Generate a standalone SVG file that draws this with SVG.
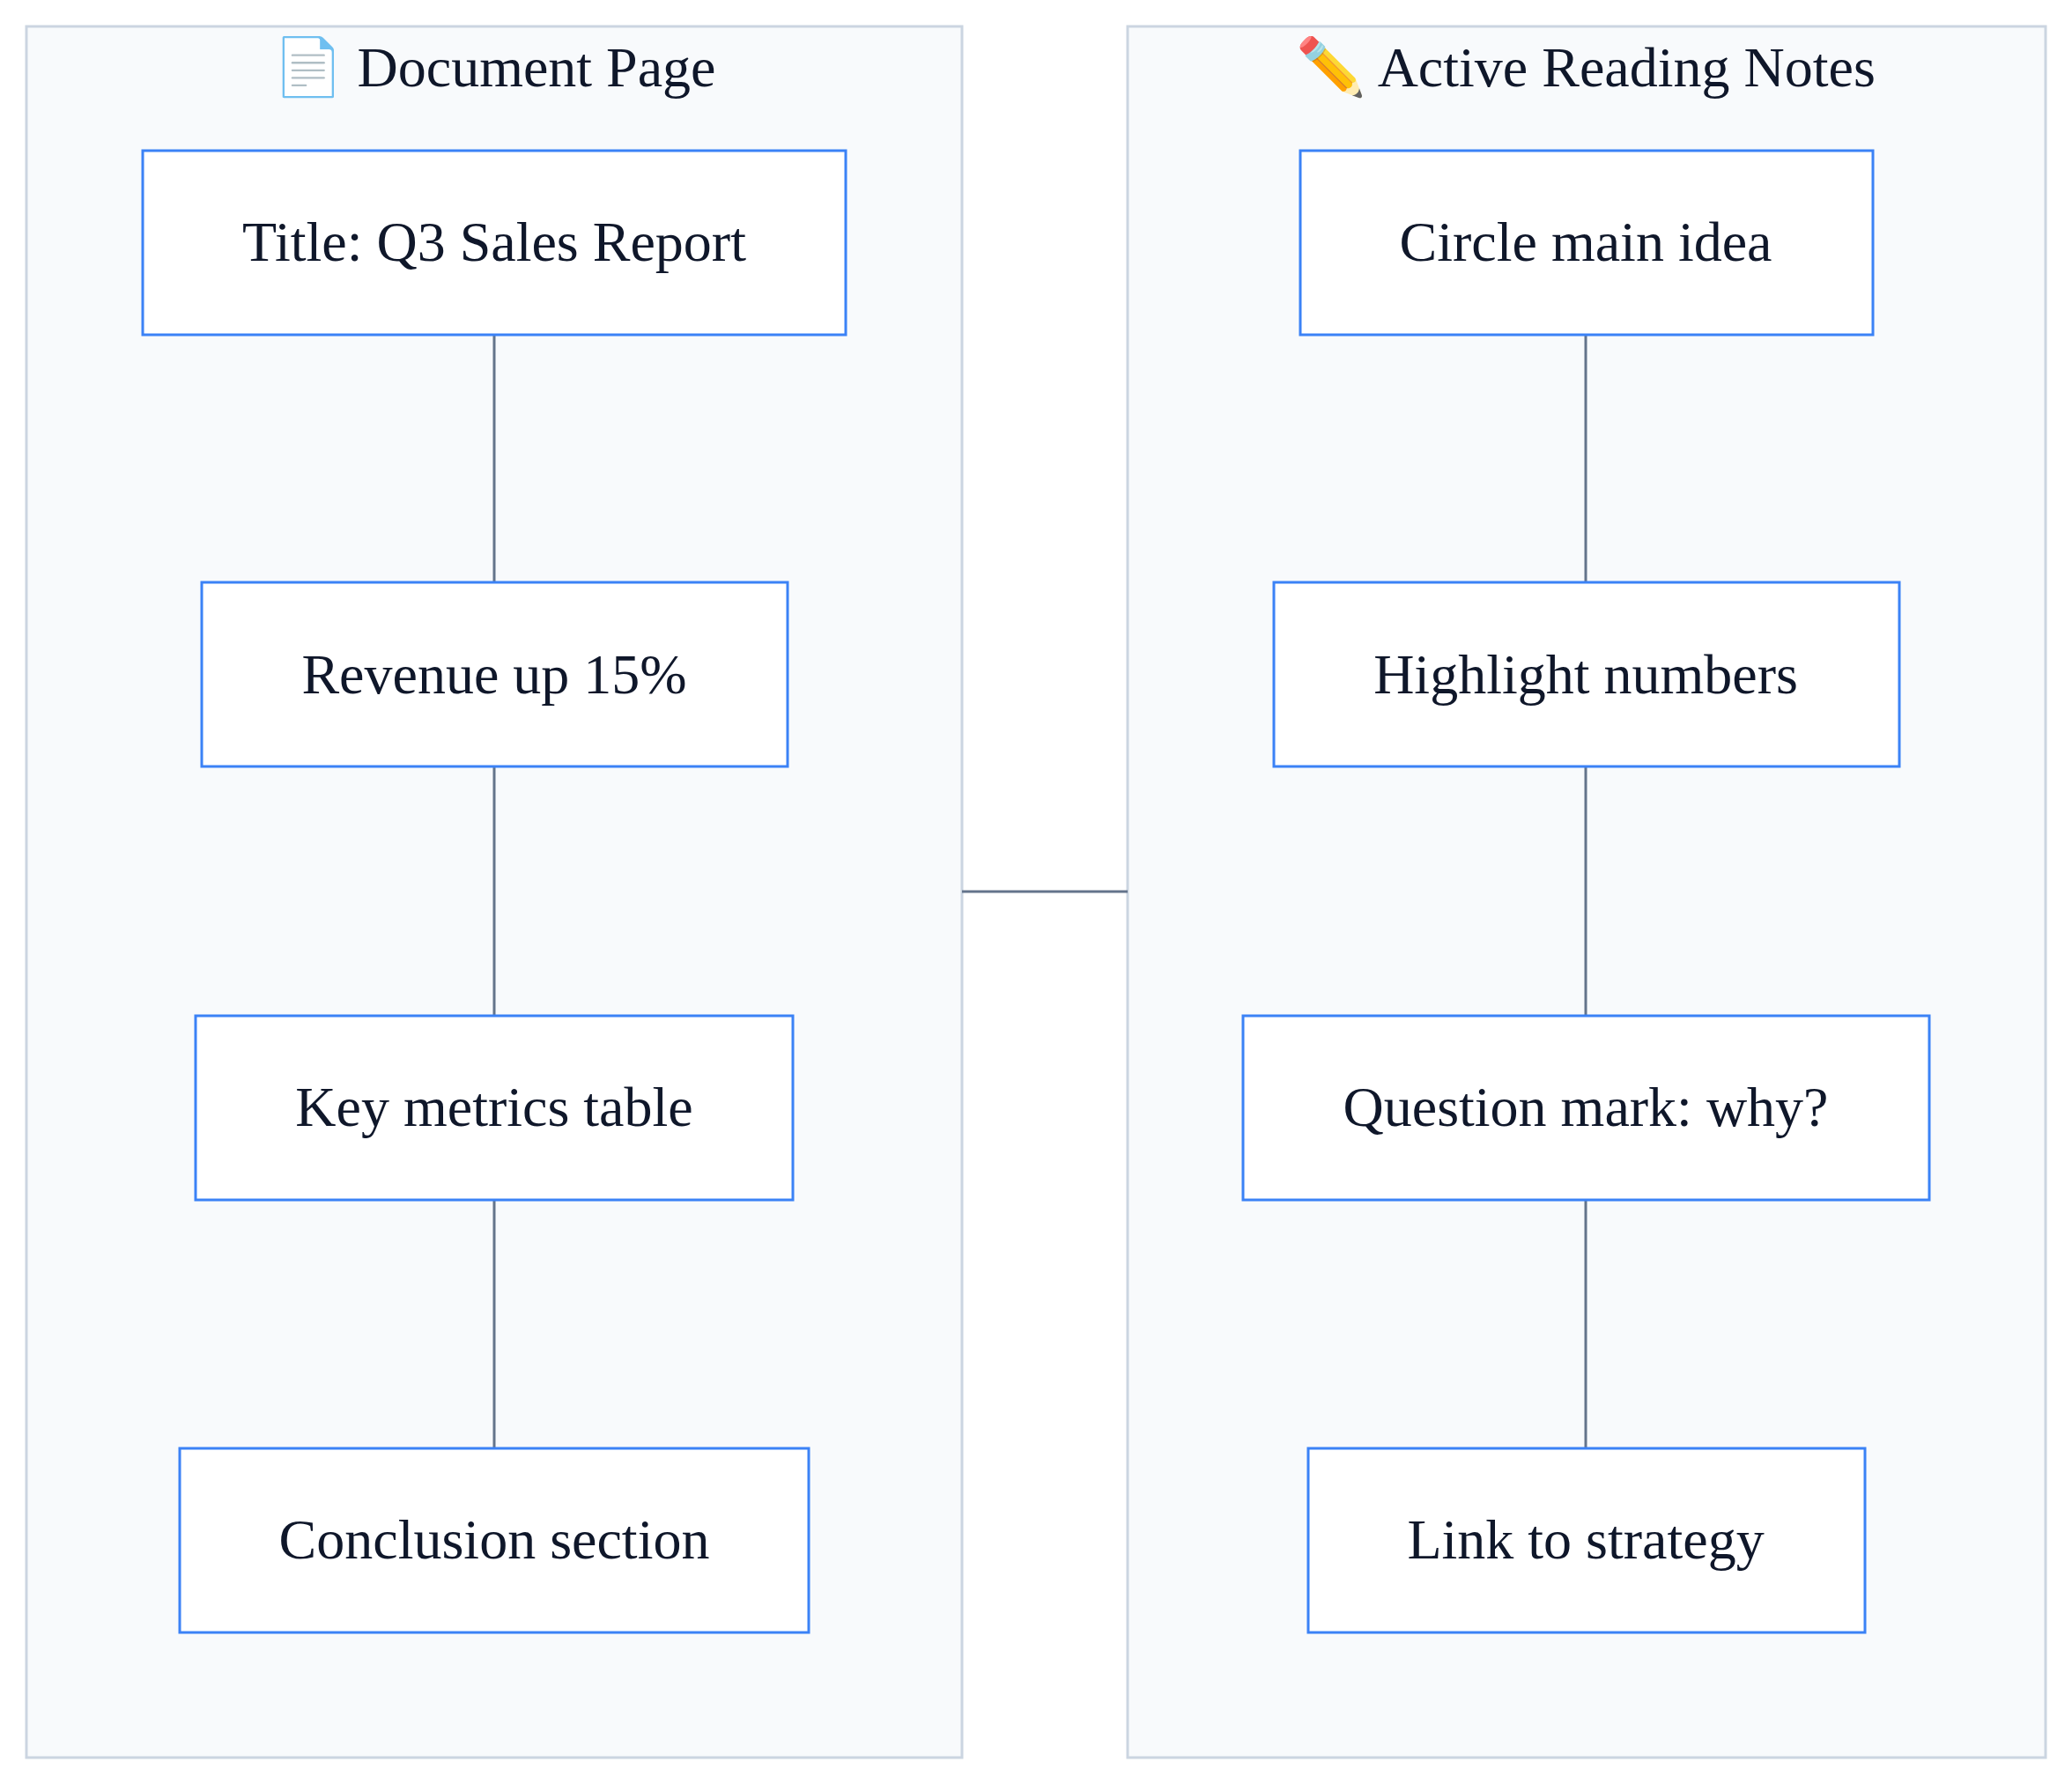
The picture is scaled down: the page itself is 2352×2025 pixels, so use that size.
<svg xmlns="http://www.w3.org/2000/svg" width="2352" height="2025" viewBox="0 0 2352 2025">
<style>
.cl{fill:#f8fafc;stroke:#cbd5e1;stroke-width:3}
.nd{fill:#ffffff;stroke:#3b82f6;stroke-width:3}
.t{font-family:"Liberation Serif","DejaVu Serif",serif;font-size:64px;fill:#0f172a;text-anchor:middle;dominant-baseline:central}
.ct{font-family:"Liberation Serif","DejaVu Serif",serif;font-size:64px;fill:#0f172a;text-anchor:middle;dominant-baseline:central}
.e{stroke:#64748b;stroke-width:3;fill:none}
</style>
<rect width="2352" height="2025" fill="#ffffff"/>
<g id="cluster-doc"><rect class="cl" x="30" y="30" width="1062" height="1965"/><text class="ct" x="561" y="76">📄 Document Page</text></g>
<g id="cluster-notes"><rect class="cl" x="1280" y="30" width="1042" height="1965"/><text class="ct" x="1800" y="76">✏️ Active Reading Notes</text></g>
<g id="connectors">
<line class="e" x1="561" y1="380" x2="561" y2="661"/>
<line class="e" x1="561" y1="870" x2="561" y2="1153"/>
<line class="e" x1="561" y1="1362" x2="561" y2="1644"/>
<line class="e" x1="1800" y1="380" x2="1800" y2="661"/>
<line class="e" x1="1800" y1="870" x2="1800" y2="1153"/>
<line class="e" x1="1800" y1="1362" x2="1800" y2="1644"/>
<line class="e" x1="1092" y1="1012" x2="1280" y2="1012"/>
</g>
<g id="n1"><rect class="nd" x="162" y="171" width="798" height="209"/><text class="t" x="561" y="274">Title: Q3 Sales Report</text></g>
<g id="n2"><rect class="nd" x="229" y="661" width="665" height="209"/><text class="t" x="561" y="765">Revenue up 15%</text></g>
<g id="n3"><rect class="nd" x="222" y="1153" width="678" height="209"/><text class="t" x="561" y="1256">Key metrics table</text></g>
<g id="n4"><rect class="nd" x="204" y="1644" width="714" height="209"/><text class="t" x="561" y="1747">Conclusion section</text></g>
<g id="m1"><rect class="nd" x="1476" y="171" width="650" height="209"/><text class="t" x="1800" y="274">Circle main idea</text></g>
<g id="m2"><rect class="nd" x="1446" y="661" width="710" height="209"/><text class="t" x="1800" y="765">Highlight numbers</text></g>
<g id="m3"><rect class="nd" x="1411" y="1153" width="779" height="209"/><text class="t" x="1800" y="1256">Question mark: why?</text></g>
<g id="m4"><rect class="nd" x="1485" y="1644" width="632" height="209"/><text class="t" x="1800" y="1747">Link to strategy</text></g>
</svg>
